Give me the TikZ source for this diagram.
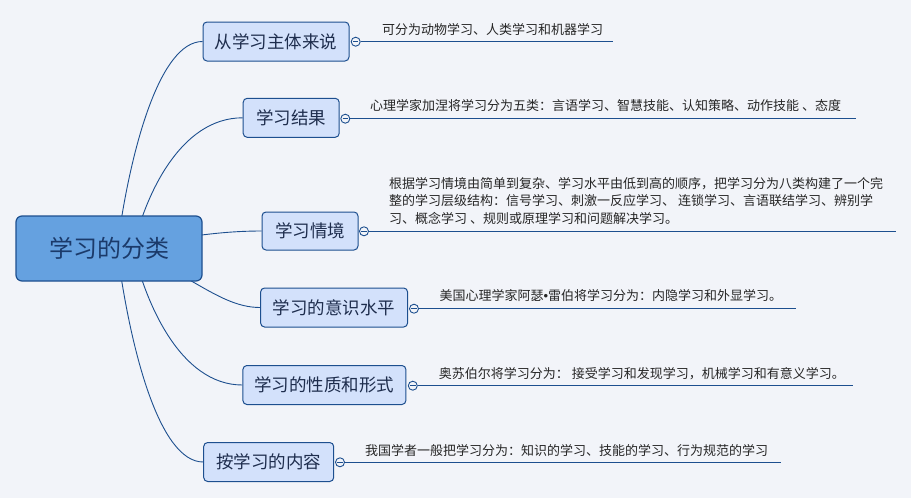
\documentclass[tikz,border=0pt]{standalone}
\usepackage{fontspec}
\setmainfont{Noto Sans CJK SC}
\newfontfamily\latinfont{Liberation Sans}
\usetikzlibrary{backgrounds}

\definecolor{pagebg}{HTML}{F2F4F9}
\definecolor{rootfill}{HTML}{65A1E0}
\definecolor{edgeblue}{HTML}{1D4F8F}
\definecolor{topicfill}{HTML}{D3E1FB}
\definecolor{inkroot}{HTML}{1B3A6A}
\definecolor{inktopic}{HTML}{1E2D4D}
\definecolor{inknote}{HTML}{262626}

\begin{document}
\begin{tikzpicture}[x=1pt,y=-1pt,
    root/.style={draw=edgeblue,fill=rootfill,line width=1.2pt,rounded corners=6pt,
      minimum width=186pt,minimum height=65pt,inner sep=0pt,
      font=\fontsize{24}{24}\selectfont,text=inkroot},
    topic/.style={draw=edgeblue,fill=topicfill,line width=1pt,rounded corners=4pt,
      minimum height=39pt,inner sep=0pt,font=\fontsize{17.5}{18}\selectfont,text=inktopic},
    fold/.style={circle,draw=edgeblue,fill=pagebg,line width=0.9pt,minimum size=9pt,inner sep=0pt},
    note/.style={anchor=west,inner sep=0pt,align=left,
      font=\fontsize{13}{17.3}\selectfont,text=inknote},
    branch/.style={draw=edgeblue,line width=0.9pt},
    rule/.style={draw=edgeblue,line width=1.1pt}]

  \useasboundingbox (0,0) rectangle (911,498);

  % root and topics
  \node[root] (root) at (109,248.5) {学习的分类};

  \node[topic,minimum width=146pt] (subject) at (276,41.5)    {从学习主体来说};
  \node[topic,minimum width=96pt]  (result)  at (291.2,117.8) {学习结果};
  \node[topic,minimum width=96pt,minimum height=38pt] (situation) at (310,231) {学习情境};
  \node[topic,minimum width=147pt] (aware)   at (334.1,307.5) {学习的意识水平};
  \node[topic,minimum width=163pt] (nature)  at (324.4,385)   {学习的性质和形式};
  \node[topic,minimum width=130pt] (content) at (268.7,462)   {按学习的内容};

  % fold markers
  \node[fold] (f subject)   at (355.7,41.7)  {};
  \node[fold] (f result)    at (345.3,118.7) {};
  \node[fold] (f situation) at (364,231.3)   {};
  \node[fold] (f aware)     at (414,308.7)   {};
  \node[fold] (f nature)    at (412.8,385.7) {};
  \node[fold] (f content)   at (340,462.3)   {};
  \foreach \f in {f subject,f result,f situation,f aware,f nature,f content}
    \draw[edgeblue,line width=0.8pt] ([xshift=2.2pt]\f.west) -- ([xshift=-2.2pt]\f.east);

  % note lines
  \coordinate (e subject)   at (613,41.7);
  \coordinate (e result)    at (856,118.7);
  \coordinate (e situation) at (896,231.3);
  \coordinate (e aware)     at (796,308.7);
  \coordinate (e nature)    at (853,385.7);
  \coordinate (e content)   at (781,462.3);

  \draw[rule] (f subject.east)   -- (e subject);
  \draw[rule] (f result.east)    -- (e result);
  \draw[rule] (f situation.east) -- (e situation);
  \draw[rule] (f aware.east)     -- (e aware);
  \draw[rule] (f nature.east)    -- (e nature);
  \draw[rule] (f content.east)   -- (e content);

  % notes
  \node[note] (n subject) at (382,29.3) {可分为动物学习、人类学习和机器学习};
  \node[note] (n result)  at (370,105.7) {心理学家加涅将学习分为五类：言语学习、智慧技能、认知策略、动作技能 、态度};
  \node[note] (n situation) at (389,201) {根据学习情境由简单到复杂、学习水平由低到高的顺序，把学习分为八类构建了一个完\\
    整的学习层级结构：信号学习、刺激一反应学习、 连锁学习、言语联结学习、辨别学\\
    习、概念学习 、规则或原理学习和问题解决学习。};
  \node[note] (n aware)   at (439.4,295.7) {美国心理学家阿瑟{\latinfont •}雷伯将学习分为：内隐学习和外显学习。};
  \node[note] (n nature)  at (438.7,373.3) {奥苏伯尔将学习分为： 接受学习和发现学习，机械学习和有意义学习。};
  \node[note] (n content) at (365,450.7) {我国学者一般把学习分为：知识的学习、技能的学习、行为规范的学习};

  \begin{scope}[on background layer]
    \fill[pagebg] (0,0) rectangle (911,498);

    % branches
    \draw[branch] ([xshift=8pt]root.center)  .. controls +(13,-98) and +(-43,0) .. (subject.west);
    \draw[branch] ([xshift=24pt]root.center) .. controls +(12,-52) and +(-63,0) .. (result.west);
    \draw[branch] (root.center)              .. controls +(61,-8)  and +(-52,0) .. (situation.west);
    \draw[branch] (root.center)              .. controls +(71,12)  and +(-46,0) .. (aware.west);
    \draw[branch] ([xshift=24pt]root.center) .. controls +(12,52)  and +(-63,0) .. (nature.west);
    \draw[branch] ([xshift=8pt]root.center)  .. controls +(13,100) and +(-44,0) .. (content.west);
  \end{scope}
\end{tikzpicture}
\end{document}
